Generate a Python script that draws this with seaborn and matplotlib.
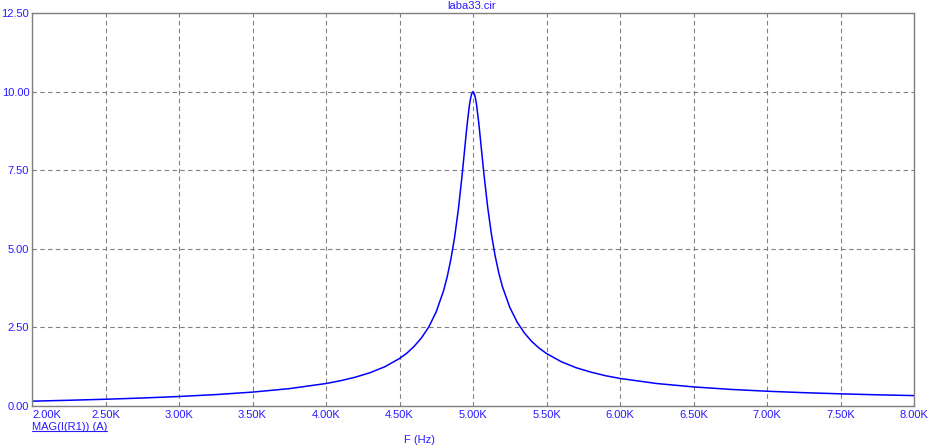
import matplotlib
matplotlib.use("Agg")
import matplotlib.pyplot as plt
from matplotlib.lines import Line2D
import seaborn as sns
import pandas as pd

title = "laba33.cir"
x_label = "F (Hz)"
y_label = "MAG(I(R1)) (A)"

freq_hz = [2000, 2250, 2500, 2750, 3000, 3250, 3500, 3750, 4000, 4100, 4200,
           4300, 4400, 4500, 4550, 4600, 4650, 4700, 4750, 4800, 4825, 4850,
           4875, 4900, 4925, 4940, 4950, 4960, 4975, 4980, 4990, 5000, 5010,
           5020, 5025, 5040, 5050, 5060, 5075, 5100, 5125,
           5150, 5175, 5200, 5250, 5300, 5350, 5400, 5450, 5500, 5600, 5700,
           5800, 5900, 6000, 6250, 6500, 6750, 7000, 7250, 7500, 7750, 8000]
current_a = [0.154, 0.182, 0.215, 0.254, 0.302, 0.363, 0.442, 0.552, 0.715,
             0.805, 0.917, 1.06, 1.248, 1.51, 1.68, 1.90, 2.17, 2.52, 3.00,
             3.67, 4.12, 4.68, 5.37, 6.24, 7.30, 8.01, 8.49, 8.95, 9.55, 9.70,
             9.92, 10.00, 9.92, 9.71, 9.55, 8.97, 8.51, 8.04,
             7.35, 6.32, 5.47, 4.79, 4.24, 3.80, 3.14, 2.67, 2.32, 2.05, 1.84,
             1.67, 1.41, 1.22, 1.08, 0.965, 0.876, 0.715, 0.607, 0.529, 0.47,
             0.424, 0.387, 0.356, 0.331]

x_ticks = [2000, 2500, 3000, 3500, 4000, 4500, 5000, 5500, 6000, 6500, 7000, 7500, 8000]
x_tick_labels = ["2.00K", "2.50K", "3.00K", "3.50K", "4.00K", "4.50K", "5.00K",
                 "5.50K", "6.00K", "6.50K", "7.00K", "7.50K", "8.00K"]
y_ticks = [0, 2.5, 5, 7.5, 10, 12.5]
y_tick_labels = ["0.00", "2.50", "5.00", "7.50", "10.00", "12.50"]

sns.set_style("white")
plt.rcParams["font.family"] = ["Liberation Sans", "DejaVu Sans"]

TXT = "#2a1aff"
FRAME = "#808080"
FS = 8

df = pd.DataFrame({"F": freq_hz, "I": current_a})

W, H = 934, 448
fig = plt.figure(figsize=(W / 100, H / 100), dpi=100)
ax = fig.add_axes([32 / W, 42 / H, (914 - 32) / W, (406 - 13) / H])

sns.lineplot(data=df, x="F", y="I", ax=ax, color="#0000ff", linewidth=1.1)

ax.set_xlim(2000, 8000)
ax.set_ylim(0, 12.5)
ax.set_xticks(x_ticks)
ax.set_xticklabels(x_tick_labels)
ax.set_yticks(y_ticks)
ax.set_yticklabels(y_tick_labels)
ax.set_xlabel("")
ax.set_ylabel("")

ax.tick_params(axis="both", length=0, labelsize=FS, labelcolor=TXT)
ax.tick_params(axis="x", pad=3)
ax.tick_params(axis="y", pad=2)
xt = ax.get_xticklabels()
xt[0].set_horizontalalignment("left")

ax.grid(True, color=FRAME, linestyle=(0, (4, 3)), linewidth=0.8)
for s in ax.spines.values():
    s.set_color(FRAME)
    s.set_linewidth(1.0)
    s.set_visible(True)

fig.text(472 / W, 1 - 6 / H, title, ha="center", va="center", fontsize=FS, color=TXT)
fig.text(420 / W, 1 - 440 / H, x_label, ha="center", va="center", fontsize=FS, color=TXT)
yl = fig.text(32 / W, 1 - 427 / H, y_label, ha="left", va="center", fontsize=FS, color=TXT)

fig.canvas.draw()
bb = yl.get_window_extent(fig.canvas.get_renderer())
uy = (bb.y0 + 1.0) / H
fig.add_artist(Line2D([bb.x0 / W, bb.x1 / W], [uy, uy], transform=fig.transFigure,
                      color=TXT, linewidth=0.8))

fig.savefig("out.png", dpi=100, facecolor="white")
